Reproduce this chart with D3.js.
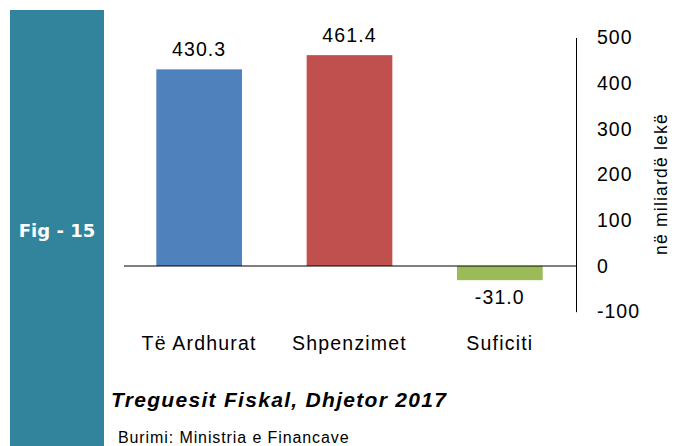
<!DOCTYPE html>
<html lang="sq">
<head>
<meta charset="UTF-8">
<title>Fig - 15</title>
<script src="https://d3js.org/d3.v7.min.js"></script>
<style>
  body { margin: 0; background: #fff; }
  svg { display: block; font-family: "Liberation Sans", Arial, sans-serif; }
</style>
</head>
<body>
<div id="chart"></div>
<script>
// data
var categories = ["Të Ardhurat", "Shpenzimet", "Suficiti"];
var values = [430.3, 461.4, -31.0];
var barColors = ["#4F81BD", "#C0504D", "#9BBB59"];
var yTicks = [-100, 0, 100, 200, 300, 400, 500];

var width = 683, height = 446;

var svg = d3.select("#chart").append("svg")
    .attr("width", width)
    .attr("height", height);

// left teal band
svg.append("rect")
    .attr("x", 10).attr("y", 10)
    .attr("width", 94).attr("height", height - 10)
    .attr("fill", "#31849B");

svg.append("text")
    .attr("x", 57).attr("y", 237)
    .attr("text-anchor", "middle")
    .attr("fill", "#fff")
    .style("font-family", "'DejaVu Sans', sans-serif")
    .style("font-size", "18px")
    .style("font-weight", "bold")
    .text("Fig - 15");

var x = d3.scaleBand()
    .domain(categories)
    .range([124, 575])
    .paddingInner(0.43)
    .paddingOuter(0.215);

var y = d3.scaleLinear()
    .domain([-100, 500])
    .range([311.7, 37.5]);

// bars
svg.append("g").selectAll("rect")
    .data(values)
    .enter().append("rect")
    .attr("x", function (d, i) { return x(categories[i]); })
    .attr("y", function (d) { return y(Math.max(0, d)); })
    .attr("width", x.bandwidth())
    .attr("height", function (d) { return Math.abs(y(d) - y(0)); })
    .attr("fill", function (d, i) { return barColors[i]; });

// zero line
svg.append("line")
    .attr("x1", 124).attr("x2", 576)
    .attr("y1", y(0)).attr("y2", y(0))
    .attr("stroke", "#000").attr("stroke-width", 1);

// right axis (plain hyphen for negatives)
var axis = svg.append("g")
    .attr("transform", "translate(576,0)")
    .call(d3.axisRight(y).tickValues(yTicks).tickSize(0).tickPadding(21)
        .tickFormat(function (d) { return String(d); }));
axis.select(".domain").attr("stroke", "#000");
axis.selectAll("text")
    .style("font-size", "19.5px")
    .style("letter-spacing", "1px")
    .style("font-family", "'Liberation Sans', Arial, sans-serif")
    .attr("fill", "#000");

svg.append("text")
    .attr("transform", "translate(667," + 184 + ") rotate(-90)")
    .attr("text-anchor", "middle")
    .style("font-size", "17.5px")
    .style("letter-spacing", "1.2px")
    .text("në miliardë lekë");

// value labels
svg.append("g").selectAll("text")
    .data(values)
    .enter().append("text")
    .attr("x", function (d, i) { return x(categories[i]) + x.bandwidth() / 2; })
    .attr("y", function (d) { return d >= 0 ? y(d) - 13.5 : y(d) + 24; })
    .attr("text-anchor", "middle")
    .style("font-size", "19.5px")
    .style("letter-spacing", "1.1px")
    .text(function (d) { return d.toFixed(1); });

// category labels
svg.append("g").selectAll("text")
    .data(categories)
    .enter().append("text")
    .attr("x", function (d) { return x(d) + x.bandwidth() / 2; })
    .attr("y", 350)
    .attr("text-anchor", "middle")
    .style("font-size", "19.5px")
    .style("letter-spacing", "1.2px")
    .text(function (d) { return d; });

svg.append("text")
    .attr("x", 111).attr("y", 407)
    .style("font-size", "21px")
    .style("font-weight", "bold")
    .style("font-style", "italic")
    .style("letter-spacing", "1.3px")
    .text("Treguesit Fiskal, Dhjetor 2017");

svg.append("text")
    .attr("x", 118).attr("y", 443)
    .style("font-size", "16px")
    .style("letter-spacing", "0.9px")
    .text("Burimi: Ministria e Financave");
</script>
</body>
</html>
